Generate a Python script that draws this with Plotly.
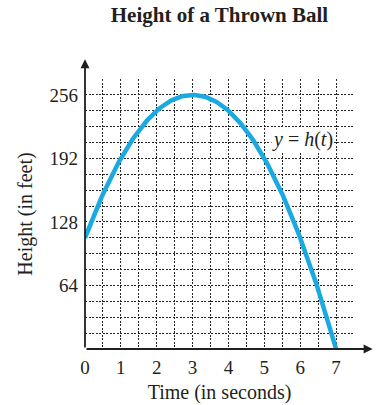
import numpy as np
import plotly.graph_objects as go

# Data: h(t) (vertex at (3, 256), h(0)=112, h(7)=0)
t_vals = [0, 0.5, 1, 1.5, 2, 2.5, 3, 3.5, 4, 4.5, 5, 5.5, 6, 6.5, 7]
h_vals = [112, 156, 192, 220, 240, 252, 256, 252, 240, 220, 192, 156, 112, 60, 0]
x_ticks = [0, 1, 2, 3, 4, 5, 6, 7]
y_ticks = [64, 128, 192, 256]

# smooth curve through the read points
ts = np.linspace(0, 7, 200)
coef = np.polyfit(t_vals, h_vals, 2)
hs = np.polyval(coef, ts)

serif = "Liberation Serif"
grid_dash = "2px,1.5px"
grid_col = "#262626"
fig = go.Figure()
fig.add_trace(go.Scatter(x=ts, y=hs, mode="lines",
                         line=dict(color="#1AA9E1", width=4.5), hoverinfo="skip",
                         showlegend=False))

fig.update_layout(
    width=388, height=405,
    margin=dict(l=85, r=34, t=79, b=56),
    plot_bgcolor="white", paper_bgcolor="white",
    font=dict(family=serif, size=19, color="#231f20"),
    title=dict(text="<b>Height of a Thrown Ball</b>", x=0.5, xanchor="center",
               xref="paper", y=0.963, yanchor="middle", font=dict(size=21)),
    showlegend=False,
)
fig.update_xaxes(range=[0, 7.5], tickvals=x_ticks, showgrid=True, automargin=False,
                 gridcolor=grid_col, griddash=grid_dash, gridwidth=1,
                 minor=dict(dtick=0.5, tick0=0, showgrid=True, gridcolor=grid_col,
                            griddash=grid_dash, gridwidth=1),
                 zeroline=False, showline=False, ticks="", ticklabelstandoff=5,
                 title=dict(text="Time (in seconds)", font=dict(size=20), standoff=7))
fig.update_yaxes(range=[0, 272], tickvals=y_ticks, showgrid=True, automargin=False,
                 gridcolor=grid_col, griddash=grid_dash, gridwidth=1,
                 minor=dict(dtick=16, tick0=0, showgrid=True, gridcolor=grid_col,
                            griddash=grid_dash, gridwidth=1),
                 zeroline=False, showline=False, ticks="", ticklabelstandoff=6,
                 title=dict(text="Height (in feet)", font=dict(size=20), standoff=11))

# axes with arrows
fig.add_annotation(x=8.02, y=0, ax=0, ay=0, xref="x", yref="y", axref="x", ayref="y",
                   showarrow=True, arrowhead=2, arrowsize=1, arrowwidth=1.8,
                   arrowcolor="#231f20", text="")
fig.add_annotation(x=0, y=292, ax=0, ay=0, xref="x", yref="y", axref="x", ayref="y",
                   showarrow=True, arrowhead=2, arrowsize=1, arrowwidth=1.8,
                   arrowcolor="#231f20", text="")
fig.add_annotation(x=8.27, y=0, xref="x", yref="y", text="<i>t</i>", showarrow=False,
                   font=dict(size=20))
fig.add_annotation(x=0, y=307, xref="x", yref="y", text="<i>y</i>", showarrow=False,
                   font=dict(size=20))
fig.add_annotation(x=6.07, y=211, xref="x", yref="y", text="<i>y</i> = <i>h</i>(<i>t</i>)",
                   showarrow=False, font=dict(size=20), bgcolor="white", borderpad=0)

fig.write_html("out.html", config={"displayModeBar": False},
               post_script="document.body.style.margin='0';document.body.style.padding='0';")
